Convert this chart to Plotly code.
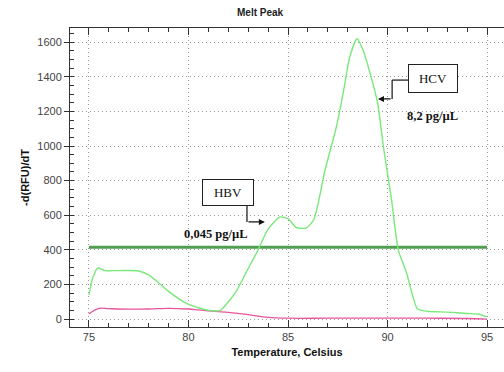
import plotly.graph_objects as go

# ---- data ----
temp_green = [75, 75.2, 75.45, 75.8, 76.5, 77.5, 78.0, 78.5, 79.0, 79.9, 80.5, 81.2, 81.6,
              81.9, 82.4, 82.9, 83.5, 84.0, 84.6, 85.0, 85.4, 85.9, 86.3, 86.86, 87.45,
              87.8, 88.1, 88.47, 88.8, 89.1, 89.5, 89.8, 90.2, 90.54, 90.96, 91.5, 92.0,
              93.0, 94.0, 94.6, 95.0]
green = [140, 240, 295, 280, 280, 278, 255, 210, 160, 90, 65, 47, 50,
         85, 160, 270, 400, 520, 590, 580, 530, 525, 575, 860, 1120,
         1324, 1514, 1620, 1545, 1430, 1250, 990, 690, 400, 265, 60, 45,
         40, 32, 28, 12]

temp_pink = [75, 75.5, 76, 77, 78, 79, 80, 80.5, 81, 81.5, 82, 83, 84, 85, 87, 90, 92, 94, 95]
pink = [30, 62, 60, 57, 58, 62, 58, 53, 48, 43, 38, 25, 10, 5, 5, 5, 5, 3, 0]

threshold_x = [75, 95]
threshold_y = [415, 415]

x_ticks = [75, 80, 85, 90, 95]
y_ticks = [0, 200, 400, 600, 800, 1000, 1200, 1400, 1600]

fig = go.Figure()
fig.add_trace(go.Scatter(x=threshold_x, y=threshold_y, mode="lines",
                         line=dict(color="#4f9f4f", width=3), hoverinfo="skip"))
fig.add_trace(go.Scatter(x=temp_pink, y=pink, mode="lines",
                         line=dict(color="#e8559c", width=1.3, shape="spline")))
fig.add_trace(go.Scatter(x=temp_green, y=green, mode="lines",
                         line=dict(color="#7ae87a", width=1.4, shape="spline", smoothing=0.6)))

serif = "Liberation Serif, Times New Roman, serif"
sans = "Liberation Sans, Arial, sans-serif"

# boxes
fig.add_annotation(x=81.98, y=734, xref="x", yref="y", text="HBV", showarrow=False,
                   font=dict(family=serif, size=13, color="#111"),
                   bordercolor="#222", borderwidth=1, borderpad=4, bgcolor="white",
                   width=42, height=17)
fig.add_annotation(x=92.29, y=1393, xref="x", yref="y", text="HCV", showarrow=False,
                   font=dict(family=serif, size=13, color="#111"),
                   bordercolor="#222", borderwidth=1, borderpad=4, bgcolor="white",
                   width=40, height=19)
fig.add_annotation(x=81.38, y=491, xref="x", yref="y", text="<b>0,045 pg/µL</b>",
                   showarrow=False, font=dict(family=serif, size=12.5, color="#111"))
fig.add_annotation(x=92.24, y=1173, xref="x", yref="y", text="<b>8,2 pg/µL</b>",
                   showarrow=False, font=dict(family=serif, size=12.5, color="#111"))

# connectors
fig.add_shape(type="line", x0=82.94, y0=665, x1=82.94, y1=561, xref="x", yref="y",
              line=dict(color="#111", width=1.2))
fig.add_annotation(x=83.84, y=561, ax=82.94, ay=561, xref="x", yref="y", axref="x", ayref="y",
                   text="", showarrow=True, arrowhead=2, arrowsize=1, arrowwidth=1.2,
                   arrowcolor="#111")
fig.add_shape(type="line", x0=91.03, y0=1381, x1=90.23, y1=1381, xref="x", yref="y",
              line=dict(color="#111", width=1.2))
fig.add_shape(type="line", x0=90.23, y0=1381, x1=90.23, y1=1272, xref="x", yref="y",
              line=dict(color="#111", width=1.2))
fig.add_annotation(x=89.52, y=1272, ax=90.23, ay=1272, xref="x", yref="y", axref="x", ayref="y",
                   text="", showarrow=True, arrowhead=2, arrowsize=1, arrowwidth=1.2,
                   arrowcolor="#111")

fig.update_layout(
    width=504, height=372,
    margin=dict(l=70, r=0, t=28, b=45, autoexpand=False),
    paper_bgcolor="white", plot_bgcolor="white",
    showlegend=False,
    title=dict(text="<b>Melt Peak</b>", x=0.516, xanchor="center", y=0.967, yanchor="middle",
               font=dict(family=sans, size=10, color="#222")),
    font=dict(family=sans, size=11, color="#333"),
)
fig.update_xaxes(
    range=[74.05, 95.85], tickvals=x_ticks, ticktext=[str(v) for v in x_ticks],
    automargin=False,
    showline=True, linecolor="#333", linewidth=1, mirror="allticks",
    ticks="inside", ticklen=7, tickcolor="#333",
    minor=dict(dtick=1, tick0=75, ticks="inside", ticklen=4, tickcolor="#333"),
    showgrid=True, gridcolor="#999999", griddash="1px,3px", gridwidth=1, zeroline=False,
    title=dict(text="<b>Temperature, Celsius</b>", font=dict(family=sans, size=11, color="#111"),
               standoff=6),
    tickfont=dict(size=11, color="#444"),
)
fig.update_yaxes(
    range=[-46, 1682], tickvals=y_ticks, ticktext=[str(v) for v in y_ticks],
    automargin=False,
    showline=True, linecolor="#333", linewidth=1, mirror=False,
    ticks="outside", ticklen=5, tickcolor="#333",
    minor=dict(dtick=50, tick0=0, ticks="inside", ticklen=4, tickcolor="#333"),
    showgrid=True, gridcolor="#999999", griddash="1px,3px", gridwidth=1, zeroline=False,
    title=dict(text="<b>-d(RFU)/dT</b>", font=dict(family=sans, size=11, color="#111"),
               standoff=5),
    tickfont=dict(size=11, color="#444"),
)

fig.write_html("out.html", config={"displayModeBar": False},
               post_script="document.body.style.margin='0';document.body.style.overflow='hidden';")
